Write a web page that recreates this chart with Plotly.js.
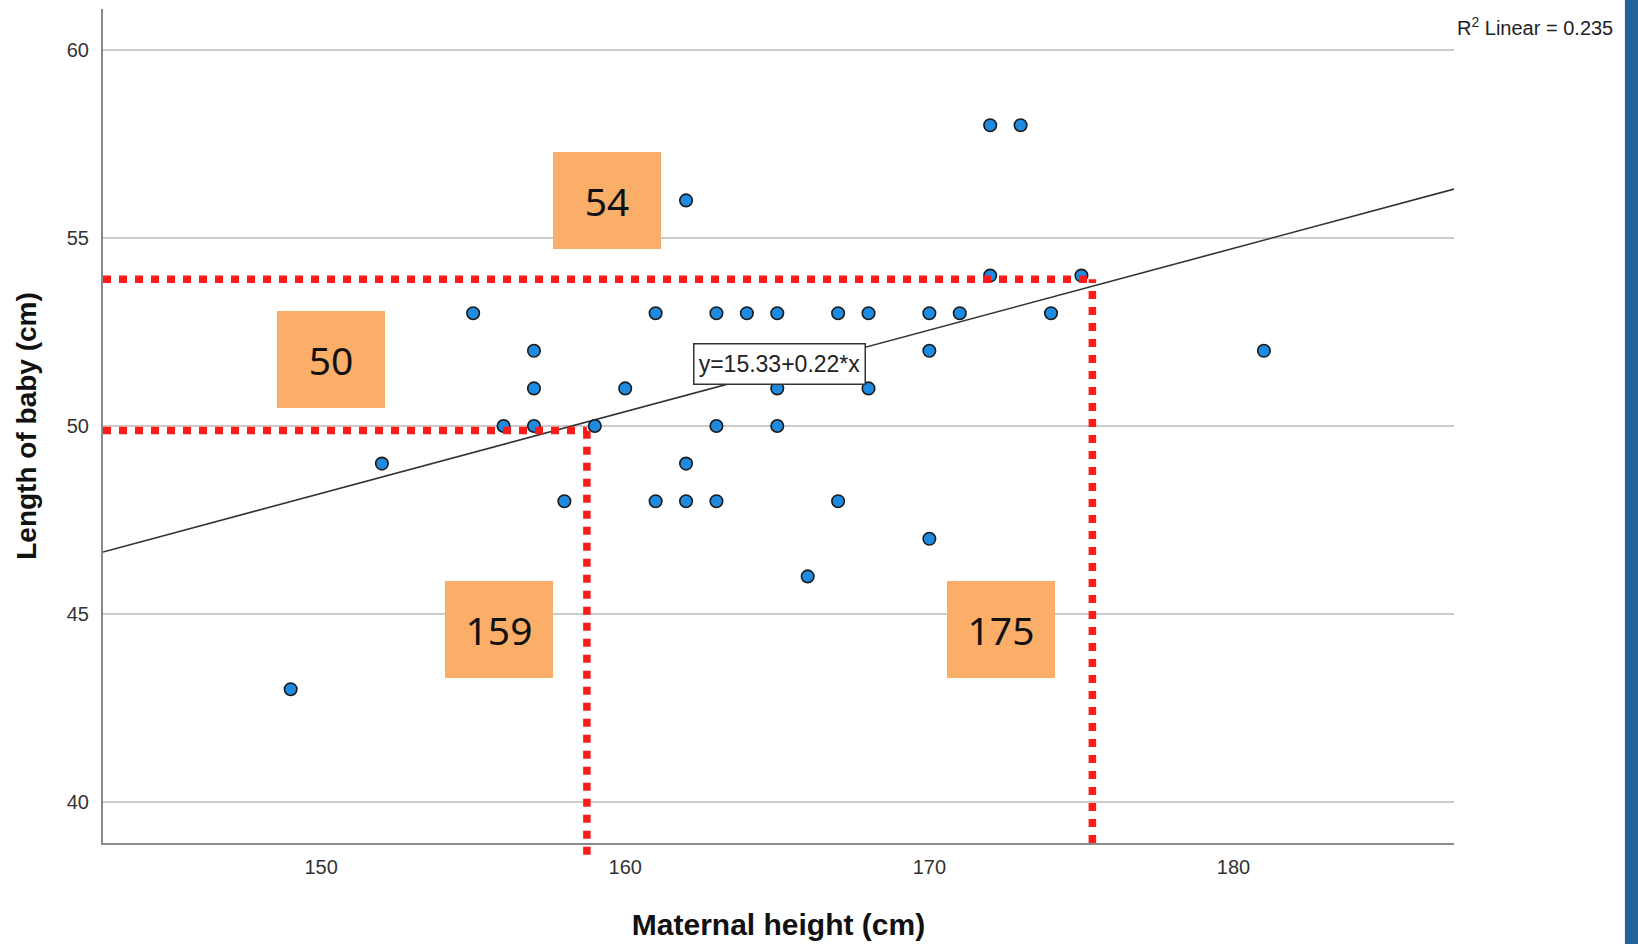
<!DOCTYPE html>
<html>
<head>
<meta charset="utf-8">
<script src="https://cdn.plot.ly/plotly-3.0.1.min.js"></script>
<style>
  html, body { margin: 0; padding: 0; background: #ffffff; }
  #chart { width: 1638px; height: 944px; }
</style>
</head>
<body>
<div id="chart"></div>
<script>
// Maternal height (cm) and length of baby (cm)
var maternalHeight = [149,152,155,156,157,157,157,158,159,160,161,161,162,162,162,163,163,163,164,165,165,165,166,167,167,168,168,170,170,170,171,172,172,173,174,175,181];
var babyLength     = [43, 49, 53, 50, 52, 51, 50, 48, 50, 51, 53, 48, 56, 49, 48, 53, 50, 48, 53, 53, 51, 50, 46, 53, 48, 53, 51, 53, 52, 47, 53, 58, 54, 58, 53, 54, 52];

// Fit line end points as drawn (SPSS linear fit)
var fitX = [142.83, 187.25];
var fitY = [46.65, 56.30];

// Red guide lines: heights 159 and 175 -> lengths 50 and 54
var guideX = [158.74, 175.36];
var guideY = [49.88, 53.90];

// Orange label boxes
var boxLabels = ['54', '50', '159', '175'];
var boxX = [159.40, 150.33, 155.86, 172.35];
var boxY = [56.01, 51.78, 44.60, 44.60];

var equationText = 'y=15.33+0.22*x';
var equationX = 165.07, equationY = 51.64;
var r2Text = 'R<sup>2</sup> Linear = 0.235';

var xTicks = [150, 160, 170, 180];
var yTicks = [40, 45, 50, 55, 60];

var xRange = [142.83, 187.25];
var yRange = [38.91, 61.09];

var redLine = { color: '#ff1a1a', width: 7.5, dash: '8px,8px' };

var traces = [
  {
    x: fitX, y: fitY, type: 'scatter', mode: 'lines',
    line: { color: '#333333', width: 1.6 }, hoverinfo: 'skip', showlegend: false
  },
  {
    x: maternalHeight, y: babyLength, type: 'scatter', mode: 'markers',
    marker: { size: 12.5, color: '#1e8be0', line: { color: '#1a1a1a', width: 1.6 } },
    showlegend: false
  }
];

var yFrac = function (v) { return (v - yRange[0]) / (yRange[1] - yRange[0]); };

var shapes = [
  { type: 'line', layer: 'above', xref: 'x', yref: 'y', x0: xRange[0], x1: guideX[0], y0: guideY[0], y1: guideY[0], line: redLine },
  { type: 'line', layer: 'above', xref: 'x', yref: 'paper', x0: guideX[0], x1: guideX[0], y0: -0.014, y1: yFrac(guideY[0]), line: redLine },
  { type: 'line', layer: 'above', xref: 'x', yref: 'y', x0: xRange[0], x1: guideX[1], y0: guideY[1], y1: guideY[1], line: redLine },
  { type: 'line', layer: 'above', xref: 'x', yref: 'y', x0: guideX[1], x1: guideX[1], y0: yRange[0], y1: guideY[1], line: redLine },
  // blue stripe at right edge of the slide
  { type: 'rect', layer: 'above', xref: 'paper', yref: 'paper', x0: 1.1265, x1: 1.25, y0: -0.2, y1: 1.2, fillcolor: '#21639a', line: { width: 0 } }
];

var annotations = boxLabels.map(function (t, i) {
  return {
    x: boxX[i], y: boxY[i], xref: 'x', yref: 'y', text: t, showarrow: false,
    xanchor: 'center', yanchor: 'middle',
    width: 108, height: 97, borderpad: 0, borderwidth: 0,
    bgcolor: '#fbae68', font: { family: 'Noto Sans, Arial, sans-serif', size: 39, color: '#111111' }
  };
});

annotations.push({
  x: equationX, y: equationY, xref: 'x', yref: 'y', text: equationText, showarrow: false,
  xanchor: 'center', yanchor: 'middle', width: 168, height: 37, borderpad: 1,
  bgcolor: '#ffffff', bordercolor: '#333333', borderwidth: 1.5,
  font: { family: 'Liberation Sans, Arial, sans-serif', size: 23, color: '#222222' }
});

annotations.push({
  x: 1.0007, y: 0.9796, xref: 'paper', yref: 'paper', text: r2Text, showarrow: false,
  xanchor: 'left', yanchor: 'middle',
  font: { family: 'Liberation Sans, Arial, sans-serif', size: 20, color: '#222222' }
});

var layout = {
  width: 1638, height: 944,
  paper_bgcolor: '#ffffff', plot_bgcolor: '#ffffff',
  margin: { l: 103, r: 184, t: 9, b: 101, pad: 0 },
  showlegend: false,
  hovermode: false,
  xaxis: {
    range: xRange, tickvals: xTicks, ticktext: xTicks.map(String),
    showgrid: false, zeroline: false,
    showline: true, linecolor: '#8a8a8a', linewidth: 2,
    ticks: '', ticklabelstandoff: 5,
    tickfont: { family: 'Liberation Sans, Arial, sans-serif', size: 20, color: '#333333' },
    title: { text: 'Maternal height (cm)', standoff: 37,
      font: { family: 'Liberation Sans, Arial, sans-serif', size: 30, color: '#111111', weight: 'bold' } }
  },
  yaxis: {
    range: yRange, tickvals: yTicks, ticktext: yTicks.map(String),
    showgrid: true, gridcolor: '#cccccc', gridwidth: 1.5, zeroline: false,
    showline: true, linecolor: '#8a8a8a', linewidth: 2,
    ticks: '', ticklabelstandoff: 8,
    tickfont: { family: 'Liberation Sans, Arial, sans-serif', size: 20, color: '#333333' },
    title: { text: 'Length of baby (cm)', standoff: 22,
      font: { family: 'Liberation Sans, Arial, sans-serif', size: 28, color: '#111111', weight: 'bold' } }
  },
  shapes: shapes,
  annotations: annotations
};

Plotly.newPlot('chart', traces, layout, { staticPlot: true, displayModeBar: false });
</script>
</body>
</html>
